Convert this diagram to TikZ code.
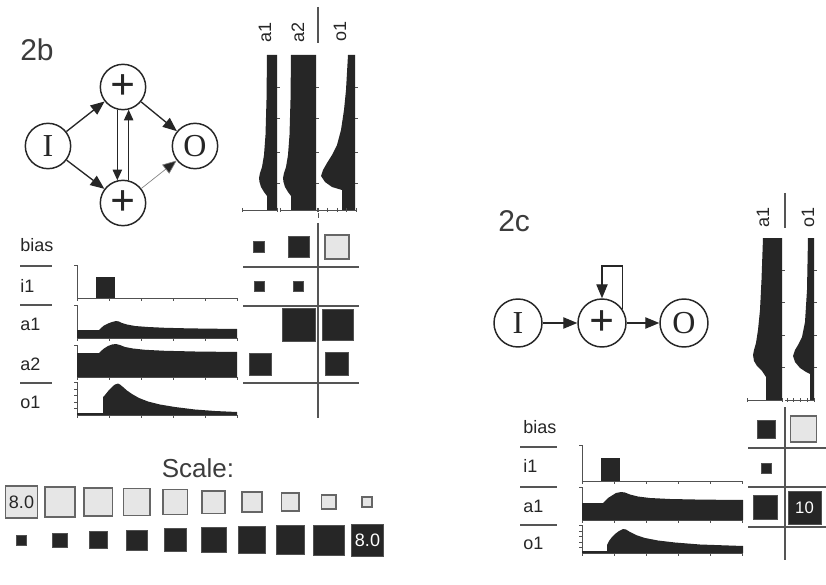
\documentclass[tikz,border=0pt]{standalone}
\usepackage{fontspec}
\setmainfont{Liberation Sans}
\newfontfamily\nodeserif{Liberation Serif}
\usetikzlibrary{arrows.meta}
\definecolor{ink}{HTML}{262626}
\definecolor{pale}{HTML}{E6E6E6}
\definecolor{rim}{HTML}{666666}
\definecolor{rule}{HTML}{555555}
\newcommand\plusmark{\fontsize{33}{33}\selectfont\bfseries\raisebox{-2pt}{+}}

\begin{document}
\begin{tikzpicture}[x=0.75pt,y=-0.75pt,
  unit/.style={circle,draw=ink,line width=1.1pt,minimum size=34pt,inner sep=0pt,
    font=\nodeserif\fontsize{24}{24}\selectfont,text=ink},
  bigunit/.style={unit,minimum size=36pt},
  arr/.style={draw=ink,line width=1pt,-{Triangle[length=10.5pt,width=8.5pt]}},
  arrsm/.style={draw=ink,line width=0.9pt,-{Triangle[length=8pt,width=7pt]}},
  faint/.style={draw=gray,line width=0.5pt},
  lbl/.style={font=\fontsize{13.5}{15}\selectfont,text=ink,inner sep=0pt,anchor=base west},
  toplbl/.style={font=\fontsize{13.5}{15}\selectfont,text=ink,inner sep=0pt,rotate=90},
  title/.style={font=\fontsize{22.5}{24}\selectfont,text=ink!90,inner sep=0pt,anchor=base west},
  dksq/.style={fill=ink,draw=ink!80,line width=0.4pt,inner sep=0pt,minimum size=#1*0.75pt},
  ltsq/.style={fill=pale,draw=rim,line width=1.2pt,inner sep=0pt,minimum size=#1*0.75pt},
  sep/.style={draw=rule,line width=0.8pt},
  axis/.style={draw=ink!80,line width=0.5pt},
  trace/.style={fill=ink}]

\useasboundingbox[fill=white] (0,0) rectangle (826,585);

%% ---------------- network 2b ----------------
\node[title] (t2b) at (20,61) {2b};
\node[unit] (in1) at (48,146) {I};
\node[unit] (h1) at (123,87) {\plusmark};
\node[unit] (h2) at (123,203) {\plusmark};
\node[unit] (out1) at (195,146) {O};
\draw[arr] (in1) -- (h1);
\draw[arr] (in1) -- (h2);
\draw[arr] (h1) -- (out1);
\draw[faint,-{Triangle[length=10.5pt,width=8.5pt,fill=ink]}] (h2) -- (out1);
\draw[arrsm] (h1.-104) -- (h2.104);
\draw[arrsm] (h2.76) -- (h1.-76);

%% column labels and column traces (time runs upward)
\node[toplbl] (ca1) at (265,32) {a1};
\node[toplbl] (ca2) at (298,32) {a2};
\node[toplbl] (co1) at (340,31) {o1};
\draw[sep] (318,7) -- (318,43);

\fill[trace] (277,210) -- (267,210) -- (267,196) -- (264,192) -- (261,187) -- (259.5,182) -- (259,178) -- (260,173) -- (262,167) -- (264,155) -- (265.5,135) -- (266.5,100) -- (267,55) -- (277,55) -- cycle;
\fill[trace] (316,210) -- (291,210) -- (291,196) -- (288,192) -- (285,187) -- (283.5,182) -- (283,178) -- (284,173) -- (286,167) -- (288,155) -- (289.5,135) -- (290.5,100) -- (291,55) -- (316,55) -- cycle;
\fill[trace] (355,210) -- (342,210) -- (342,190) -- (332,187) -- (325,182) -- (321,176) -- (323,170) -- (327,163) -- (332,155) -- (337,145) -- (341,130) -- (344,110) -- (346,90) -- (348,55) -- (355,55) -- cycle;
\foreach \cx in {277,316,355}
  \foreach \ty in {87,118,152,183}
    \draw[axis] (\cx,\ty) -- ++(3,0);
\draw[axis] (242,210) -- (277,210);
\draw[axis] (280,210) -- (317,210);
\draw[axis] (318,210) -- (356,210);
\foreach \tx in {242,277,280,317,318,327,337,346,356}
  \draw[axis] (\tx,208) -- (\tx,212);
\draw[axis] (318,213) -- (318,218);

%% weight matrix 2b
\draw[sep] (318,223) -- (318,418);
\draw[sep] (243,267) -- (359,267);
\draw[sep] (243,306) -- (359,306);
\draw[sep] (243,383) -- (359,383);
\node[dksq=11] (wb1) at (259,247) {};
\node[dksq=21] (wb2) at (298.5,247) {};
\node[ltsq=24] (wb3) at (337,247) {};
\node[dksq=10] (wi1) at (259.5,286) {};
\node[dksq=10] (wi2) at (298.5,286) {};
\node[dksq=33] (wa12) at (298.5,325) {};
\node[dksq=31] (wa13) at (337.5,325) {};
\node[dksq=22] (wa21) at (260,364) {};
\node[dksq=23] (wa23) at (336.5,364) {};

%% row labels 2b
\node[lbl] (rb) at (20,252) {bias};
\node[lbl] (ri) at (20,292) {i1};
\node[lbl] (ra1) at (20,330) {a1};
\node[lbl] (ra2) at (20,370) {a2};
\node[lbl] (ro) at (20,408) {o1};
\draw[sep] (20,266) -- (52,266);
\draw[sep] (20,305) -- (52,305);
\draw[sep] (20,383) -- (52,383);

%% row traces 2b (time runs rightward)
\foreach \top/\base in {265/298,305/338,345/377,382/415}{
  \draw[axis] (77,\top) -- (77,\base) -- (237,\base);
  \draw[axis] (74,\top) -- (77,\top);
  \foreach \tx in {77,109,141,173,205,237}
    \draw[axis] (\tx,\base) -- (\tx,\base+3);
}
\foreach \ty in {389,395,402,408}
  \draw[axis] (74,\ty) -- (77,\ty);
\fill[trace] (96,277) rectangle (115,298);
\fill[trace] (77,338) -- (77,330) -- (99,330) -- (101,328) -- (104,325.5) -- (108,323.5) -- (112,322) -- (116,321) -- (119,321.5) -- (122,323) -- (127,324.5) -- (135,326) -- (148,327) -- (165,327.8) -- (190,328.4) -- (237,329) -- (237,338) -- cycle;
\fill[trace] (77,377) -- (77,353) -- (99,353) -- (101,351) -- (104,348.5) -- (108,346) -- (112,344.5) -- (116,344) -- (120,345) -- (125,347) -- (133,348.5) -- (145,349.8) -- (165,350.8) -- (195,351.5) -- (237,352) -- (237,377) -- cycle;
\fill[trace] (77,415) -- (77,413) -- (103,413) -- (103,397) -- (105,395) -- (107,392.5) -- (109,390) -- (111,388) -- (113,386) -- (115,384.5) -- (118,383.5) -- (120,384.5) -- (123,387) -- (127,390.5) -- (132,394) -- (139,398) -- (148,401.5) -- (160,404.5) -- (175,407) -- (195,409.5) -- (215,411) -- (237,412) -- (237,415) -- cycle;

%% ---------------- scale ----------------
\node[font=\fontsize{19.5}{21}\selectfont,text=ink!90,inner sep=0pt,anchor=base] (scl) at (198,477) {Scale:};
\node[ltsq=32,font=\fontsize{13.5}{14}\selectfont,text=ink] (lt0) at (21.5,502) {8.0};
\foreach \i in {1,...,9}{
  \pgfmathsetmacro\sz{11.3*sqrt(8-0.8*\i)}
  \node[ltsq=\sz] (lt\i) at ({21.5+38.4*\i},502) {};
}
\foreach \i in {0,...,8}{
  \pgfmathsetmacro\sz{11.3*sqrt(0.8*(\i+1))}
  \node[dksq=\sz] (dk\i) at ({21.5+38.4*\i},540) {};
}
\node[dksq=32,font=\fontsize{13.5}{14}\selectfont,text=white] (dk9) at (367.5,540) {8.0};

%% ---------------- network 2c ----------------
\node[title] (t2c) at (498,232) {2c};
\node[bigunit] (in2) at (518,323) {I};
\node[bigunit] (h3) at (602,323) {\plusmark};
\node[bigunit] (out2) at (684,323) {O};
\coordinate (loopTop) at (602,266);
\draw[arr] (in2) -- (h3);
\draw[arr] (h3) -- (out2);
\draw[arr] (h3.34) -- (h3.34 |- loopTop) -| (h3.north);

%% column labels and traces 2c
\node[toplbl] (ca1c) at (763,217) {a1};
\node[toplbl] (co1c) at (808,217) {o1};
\draw[sep] (785,193) -- (785,228);
\fill[trace] (782,400) -- (766,400) -- (766,377) -- (762,371) -- (757,366) -- (754,361) -- (753,355) -- (754,350) -- (756,343) -- (758,330) -- (760,310) -- (761.5,280) -- (763,238) -- (782,238) -- cycle;
\fill[trace] (814,400) -- (810,400) -- (810,374) -- (806,372) -- (800,368) -- (795,362) -- (793,356) -- (795,350) -- (798,345) -- (802,337) -- (805,322) -- (807,290) -- (808,238) -- (814,238) -- cycle;
\foreach \cx in {782,814}
  \foreach \ty in {270,302,335,367}
    \draw[axis] (\cx,\ty) -- ++(3,0);
\draw[axis] (747,400) -- (782,400);
\draw[axis] (785,400) -- (815,400);
\foreach \tx in {747,782,787,793,800,807,814}
  \draw[axis] (\tx,398) -- (\tx,402);

%% weight matrix 2c
\draw[sep] (785,407) -- (785,560);
\draw[sep] (748,448) -- (826,448);
\draw[sep] (748,487) -- (826,487);
\draw[sep] (748,527) -- (826,527);
\node[dksq=18] (vb1) at (766,429) {};
\node[ltsq=26] (vb2) at (803.5,429) {};
\node[dksq=10] (vi1) at (766,468) {};
\node[dksq=24] (va1) at (765,507) {};
\node[dksq=33,font=\fontsize{12.5}{13}\selectfont,text=white] (va2) at (804.5,508) {10};

%% row labels 2c
\node[lbl] (rbc) at (523,433) {bias};
\node[lbl] (ric) at (523,472) {i1};
\node[lbl] (rac) at (523,512) {a1};
\node[lbl] (roc) at (523,549) {o1};
\draw[sep] (520,447) -- (557,447);
\draw[sep] (520,487) -- (557,487);
\draw[sep] (520,525) -- (557,525);

%% row traces 2c
\foreach \top/\base in {445/481,487/520,525/553}{
  \draw[axis] (582,\top) -- (582,\base) -- (743,\base);
  \draw[axis] (579,\top) -- (582,\top);
  \foreach \tx in {582,614,646,678,710,742}
    \draw[axis] (\tx,\base) -- (\tx,\base+3);
}
\foreach \ty in {531,536,542,547}
  \draw[axis] (579,\ty) -- (582,\ty);
\fill[trace] (601,458) rectangle (620,481);
\fill[trace] (582,520) -- (582,503) -- (603,503) -- (605,501) -- (608,498) -- (612,495.5) -- (616,493) -- (621,492) -- (625,492.5) -- (630,494.5) -- (638,496.5) -- (650,498) -- (670,499) -- (700,499.6) -- (743,500) -- (743,520) -- cycle;
\fill[trace] (582,553) -- (582,551) -- (607,551) -- (607,545) -- (609,541) -- (612,537) -- (615,534) -- (619,531) -- (623,529) -- (626,529.5) -- (630,532) -- (636,535) -- (645,538) -- (658,540.5) -- (675,542.5) -- (700,544.5) -- (743,546) -- (743,553) -- cycle;
\end{tikzpicture}
\end{document}
